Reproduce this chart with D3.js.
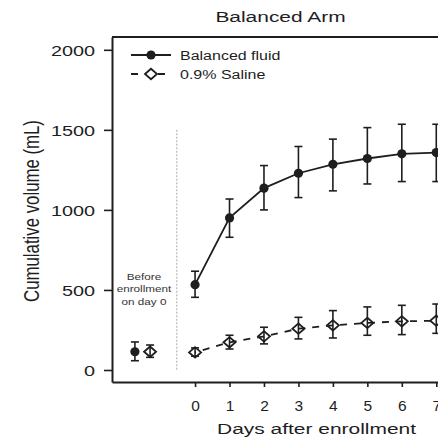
<!DOCTYPE html>
<html>
<head>
<meta charset="utf-8">
<script src="https://cdn.jsdelivr.net/npm/d3@7"></script>
<style>
  html, body { margin: 0; padding: 0; background: #fff; }
  svg { display: block; }
  text { font-family: "Liberation Sans", Arial, Helvetica, sans-serif; fill: #1e1e1e; }
</style>
</head>
<body>
<svg id="chart" width="438" height="437"></svg>
<script>
// Day labels on the x axis
const days = [0, 1, 2, 3, 4, 5, 6, 7];
const yTicks = [0, 500, 1000, 1500, 2000];

// Balanced fluid: cumulative volume (mL), mean with error-bar limits
const balancedMean  = [533, 950, 1136, 1229, 1285, 1321, 1350, 1358];
const balancedUpper = [617, 1068, 1277, 1396, 1442, 1514, 1535, 1535];
const balancedLower = [454, 829, 1000, 1077, 1119, 1162, 1177, 1177];

// 0.9% Saline: cumulative volume (mL), mean with error-bar limits
const salineMean  = [110, 173, 210, 258, 279, 294, 304, 308];
const salineUpper = [138, 217, 267, 329, 371, 394, 404, 412];
const salineLower = [86, 131, 163, 194, 200, 217, 221, 229];

// Volume received before enrollment on day 0: [mean, upper, lower]
const preBalanced = [114, 175, 58];
const preSaline   = [114, 156, 79];

const seriesNames = ["Balanced fluid", "0.9% Saline"];

const svg = d3.select("#chart");
const ink = "#1e1e1e";

// x: days; the pre-enrollment slot sits left of day 0
const x = d3.scaleLinear().domain([-2.41, 7.05]).range([112, 438]);
const y = d3.scaleLinear().domain([-75, 2080]).range([382, 37]);
const PRE = -1.525, DODGE = 0.22, DIVIDER = -0.53;

// Text helper: the typeface is drawn slightly wide
function label(g, px, py, str, size, anchor, sx, rot) {
  return g.append("text")
    .attr("transform", `translate(${px},${py}) scale(${sx},1)` + (rot ? ` rotate(${rot})` : ""))
    .attr("text-anchor", anchor)
    .attr("font-size", size)
    .text(str);
}

// Title
label(svg, 280.5, 22, "Balanced Arm", 15.5, "middle", 1.35);

// Y axis
const yAxis = svg.append("g")
  .attr("transform", `translate(${x.range()[0]},0)`)
  .call(d3.axisLeft(y).tickValues(yTicks).tickFormat(d3.format("d"))
    .tickSize(8).tickSizeOuter(0));
yAxis.select(".domain").attr("stroke", ink).attr("stroke-width", 2);
yAxis.selectAll(".tick line").attr("stroke", ink).attr("stroke-width", 1.6);
yAxis.selectAll(".tick text")
  .attr("x", 0).attr("dy", "0.36em")
  .attr("transform", "translate(-17,0) scale(1.28,1)")
  .attr("font-size", 15.5).attr("font-family", null).style("fill", ink);

// X axis
const xAxis = svg.append("g")
  .attr("transform", `translate(0,${y.range()[0]})`)
  .call(d3.axisBottom(x).tickValues(days).tickFormat(d3.format("d"))
    .tickSize(5).tickPadding(13).tickSizeOuter(0));
xAxis.select(".domain").attr("stroke", ink).attr("stroke-width", 2);
xAxis.selectAll(".tick line").attr("stroke", ink).attr("stroke-width", 1.6);
xAxis.selectAll(".tick text")
  .attr("font-size", 15.5).attr("font-family", null).style("fill", ink);

// Top frame line
svg.append("line")
  .attr("x1", x.range()[0]).attr("x2", x.range()[1])
  .attr("y1", y.range()[1]).attr("y2", y.range()[1])
  .attr("stroke", ink).attr("stroke-width", 2);

// Axis titles
label(svg, 31, 211, "Cumulative volume (mL)", 16.8, "middle", 1.3, -90).attr("dy", "0.35em");
label(svg, 316.5, 434, "Days after enrollment", 15.4, "middle", 1.36);

// Divider between pre-enrollment and daily values
svg.append("line")
  .attr("x1", x(DIVIDER)).attr("x2", x(DIVIDER))
  .attr("y1", y(1500)).attr("y2", y(0))
  .attr("stroke", "#b8b8b8").attr("stroke-width", 1.2)
  .attr("stroke-dasharray", "2,1.5");

// Pre-enrollment note
const note = ["Before", "enrollment", "on day 0"];
note.forEach((t, i) => {
  label(svg, x(PRE) + 1.5, 280 + i * 12.3, t, 9, "middle", 1.3).style("fill", "#333");
});

// Helpers for markers and error bars
const CAP = 4;
function errorBar(g, cx, lo, hi) {
  g.append("line").attr("x1", cx).attr("x2", cx).attr("y1", y(lo)).attr("y2", y(hi))
    .attr("stroke", ink).attr("stroke-width", 1.6);
  [lo, hi].forEach(v => g.append("line")
    .attr("x1", cx - CAP).attr("x2", cx + CAP).attr("y1", y(v)).attr("y2", y(v))
    .attr("stroke", ink).attr("stroke-width", 1.6));
}
function dot(g, cx, cy) {
  g.append("circle").attr("cx", cx).attr("cy", cy).attr("r", 4.6).attr("fill", ink);
}
function diamond(g, cx, cy) {
  const w = 6, h = 5.2;
  g.append("path")
    .attr("d", `M${cx - w},${cy}L${cx},${cy - h}L${cx + w},${cy}L${cx},${cy + h}Z`)
    .attr("fill", "none").attr("stroke", ink).attr("stroke-width", 1.8);
}

const marks = svg.append("g");

// Saline: dashed line, hollow diamonds
marks.append("path")
  .datum(days)
  .attr("d", d3.line().x(d => x(d)).y((d, i) => y(salineMean[i])))
  .attr("fill", "none").attr("stroke", ink).attr("stroke-width", 1.8)
  .attr("stroke-dasharray", "7,7").attr("stroke-dashoffset", -8);
days.forEach((d, i) => {
  errorBar(marks, x(d), salineLower[i], salineUpper[i]);
  diamond(marks, x(d), y(salineMean[i]));
});

// Balanced fluid: solid line, filled circles
marks.append("path")
  .datum(days)
  .attr("d", d3.line().x(d => x(d)).y((d, i) => y(balancedMean[i])))
  .attr("fill", "none").attr("stroke", ink).attr("stroke-width", 1.8);
days.forEach((d, i) => {
  errorBar(marks, x(d), balancedLower[i], balancedUpper[i]);
  dot(marks, x(d), y(balancedMean[i]));
});

// Pre-enrollment values
errorBar(marks, x(PRE - DODGE), preBalanced[2], preBalanced[1]);
dot(marks, x(PRE - DODGE), y(preBalanced[0]));
errorBar(marks, x(PRE + DODGE), preSaline[2], preSaline[1]);
diamond(marks, x(PRE + DODGE), y(preSaline[0]));

// Legend
const legend = svg.append("g");
const lx0 = 131, lx1 = 171, lxm = 151;
const rows = [55, 74];
legend.append("line").attr("x1", lx0).attr("x2", lx1).attr("y1", rows[0]).attr("y2", rows[0])
  .attr("stroke", ink).attr("stroke-width", 1.8);
dot(legend, lxm, rows[0]);
legend.append("line").attr("x1", lx0).attr("x2", lx1).attr("y1", rows[1]).attr("y2", rows[1])
  .attr("stroke", ink).attr("stroke-width", 1.8).attr("stroke-dasharray", "7,6.5");
legend.append("rect").attr("x", lxm - 7).attr("y", rows[1] - 6).attr("width", 14).attr("height", 12)
  .attr("fill", "#fff");
diamond(legend, lxm, rows[1]);
seriesNames.forEach((n, i) => {
  label(legend, 180, rows[i], n, 12.5, "start", 1.28).attr("dy", "0.36em");
});
</script>
</body>
</html>
